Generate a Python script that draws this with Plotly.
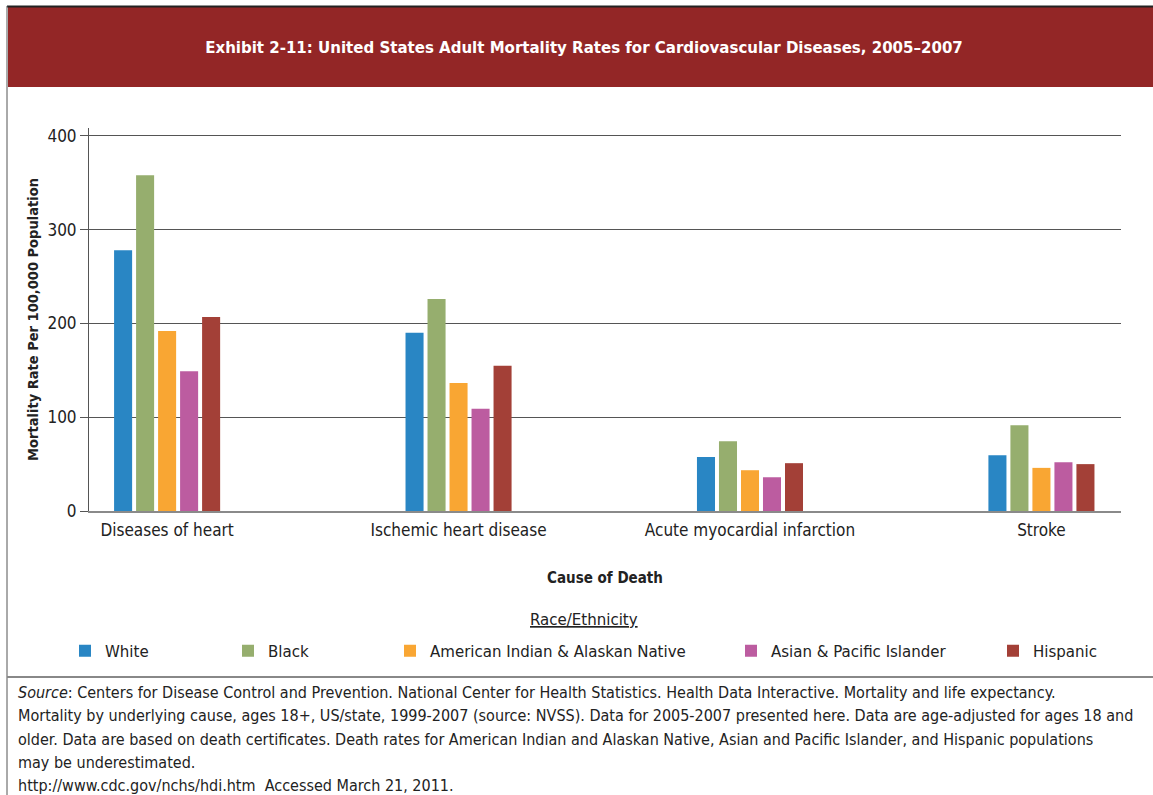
import plotly.graph_objects as go

# Cause-of-death categories and mortality rates per 100,000 (ages 18+, 2005-2007)
causes = ["Diseases of heart", "Ischemic heart disease",
          "Acute myocardial infarction", "Stroke"]
white = [278, 190, 57.5, 59.5]
black = [358, 226, 74.5, 91.5]
aian = [192, 136.5, 43.5, 46]
api = [149, 109, 36, 52]
hispanic = [207, 155, 51, 50]

series_names = ["White", "Black", "American Indian & Alaskan Native",
                "Asian & Pacific Islander", "Hispanic"]
series_values = [white, black, aian, api, hispanic]
series_colors = ["#2986C4", "#96AE6E", "#F9A633", "#BC5CA0", "#A34037"]

y_ticks = [0, 100, 200, 300, 400]

source_lines = [
    "<i>Source</i>: Centers for Disease Control and Prevention. National Center for Health Statistics. "
    "Health Data Interactive. Mortality and life expectancy.",
    "Mortality by underlying cause, ages 18+, US/state, 1999-2007 (source: NVSS). "
    "Data for 2005-2007 presented here. Data are age-adjusted for ages 18 and",
    "older. Data are based on death certificates. Death rates for American Indian and Alaskan Native, "
    "Asian and Pacific Islander, and Hispanic populations",
    "may be underestimated.",
    "http://www.cdc.gov/nchs/hdi.htm  Accessed March 21, 2011.",
]

NARROW = "Liberation Sans Narrow, DejaVu Sans Condensed, Arial Narrow, sans-serif"
W, H = 1153, 795
L, R, T, B = 89, 32, 128, 284
PW, PH = W - L - R, H - T - B


def px_x(p):
    return (p - L) / PW


def px_y(p):
    return (H - B - p) / PH


# left edges (pixels) of the separate per-series legends
legend_px = [65, 228, 390, 731, 993]

fig = go.Figure()
for i, (name, vals, col) in enumerate(zip(series_names, series_values, series_colors)):
    lg = "legend" if i == 0 else f"legend{i + 1}"
    fig.add_trace(go.Bar(
        x=causes, y=vals, name=name, marker_color=col,
        marker_line_width=0, legend=lg,
    ))

legend_common = dict(
    orientation="h", xref="container", yref="container",
    y=(H - 651) / H, yanchor="middle", xanchor="left",
    font=dict(family=NARROW, size=16.7, color="#222"),
    bgcolor="rgba(0,0,0,0)", itemclick=False, itemdoubleclick=False,
)
legends = {}
for i, lx in enumerate(legend_px):
    key = "legend" if i == 0 else f"legend{i + 1}"
    legends[key] = dict(legend_common, x=lx / W)

fig.update_layout(
    width=W, height=H,
    margin=dict(l=L, r=R, t=T, b=B, autoexpand=False),
    paper_bgcolor="white", plot_bgcolor="white",
    barmode="group", bargap=0.6225, bargroupgap=0.18,
    showlegend=True,
    title=dict(
        text="<b>Exhibit 2-11: United States Adult Mortality Rates for Cardiovascular Diseases, 2005–2007</b>",
        x=584 / W, xanchor="center", xref="container",
        y=1 - 47 / H, yanchor="middle", yref="container",
        font=dict(family=NARROW, size=16.7, color="white"),
    ),
    xaxis=dict(
        type="category", range=[-0.268, 3.273],
        showline=True, linecolor="#8a8a8a", linewidth=2,
        showgrid=False, ticks="", zeroline=False,
        ticklabelstandoff=3,
        tickfont=dict(family=NARROW, size=17, color="#222"),
        title=dict(text="<b>Cause of Death</b>", standoff=33,
                   font=dict(family=NARROW, size=15, color="#222")),
        automargin=False,
    ),
    yaxis=dict(
        range=[0, 408.5], tickvals=y_ticks,
        showline=True, linecolor="#555", linewidth=1,
        showgrid=True, gridcolor="#555", gridwidth=1,
        zeroline=False,
        ticks="outside", ticklen=8, tickcolor="#555",
        tickfont=dict(family=NARROW, size=17, color="#222"),
        title=dict(text="<b>Mortality Rate Per 100,000 Population</b>", standoff=5,
                   font=dict(family=NARROW, size=14.5, color="#222")),
        automargin=False,
    ),
    **legends,
)

# Header band, frame lines and source separator
fig.add_shape(type="rect", xref="paper", yref="paper",
              x0=px_x(8), x1=px_x(W + 2), y0=px_y(87), y1=px_y(7),
              fillcolor="#932626", line_width=0, layer="below")
fig.add_shape(type="line", xref="paper", yref="paper",
              x0=px_x(7), x1=px_x(W + 2), y0=px_y(6.5), y1=px_y(6.5),
              line=dict(color="#222", width=2))
fig.add_shape(type="line", xref="paper", yref="paper",
              x0=px_x(7), x1=px_x(7), y0=px_y(6), y1=px_y(H + 2),
              line=dict(color="#555", width=1))
fig.add_shape(type="line", xref="paper", yref="paper",
              x0=px_x(7), x1=px_x(W + 2), y0=px_y(677), y1=px_y(677),
              line=dict(color="#888", width=2))

# Legend heading
fig.add_annotation(
    text="<u>Race/Ethnicity</u>", xref="paper", yref="paper",
    x=px_x(584), y=px_y(619), xanchor="center", yanchor="middle",
    showarrow=False, font=dict(family=NARROW, size=16.7, color="#222"),
)

# Source note, one annotation per line
for k, line in enumerate(source_lines):
    fig.add_annotation(
        text=line, xref="paper", yref="paper",
        x=px_x(16), y=px_y(692.5 + 23.3 * k), xanchor="left", yanchor="middle",
        align="left", showarrow=False,
        font=dict(family=NARROW, size=16, color="#222"),
    )

fig.write_html("out.html")
